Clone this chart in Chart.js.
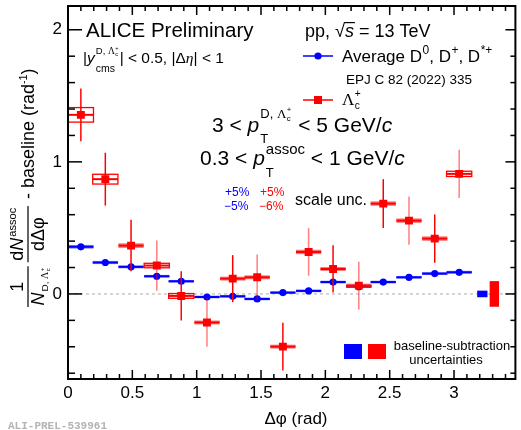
<!DOCTYPE html>
<html>
<head>
<meta charset="utf-8">
<script src="https://cdn.jsdelivr.net/npm/chart.js@4.4.1/dist/chart.umd.min.js"></script>
<style>
  html, body { margin: 0; padding: 0; background: #fff; }
</style>
</head>
<body>
<canvas id="chart" width="521" height="430"></canvas>
<script>
// Δφ bin centres (rad)
const dphi = [0.10, 0.29, 0.49, 0.69, 0.88, 1.08, 1.28, 1.47, 1.67, 1.87, 2.06, 2.26, 2.45, 2.65, 2.85, 3.04];
const binHalf = 0.098;

// average D0, D+, D*+  (EPJ C 82 (2022) 335)
const dMeson     = [0.357, 0.238, 0.205, 0.134, 0.096, -0.023, -0.018, -0.038, 0.010, 0.023, 0.090, 0.055, 0.090, 0.126, 0.154, 0.164];
const dMesonStat = [0.015, 0.013, 0.013, 0.013, 0.013, 0.012, 0.012, 0.012, 0.012, 0.012, 0.013, 0.013, 0.013, 0.013, 0.013, 0.013];
const dMesonSyst = [0.014, 0.012, 0.011, 0.010, 0.010, 0.010, 0.010, 0.010, 0.010, 0.010, 0.010, 0.010, 0.010, 0.010, 0.011, 0.011];

// Lambda_c+
const lambdaC     = [1.356, 0.869, 0.366, 0.215, -0.015, -0.216, 0.116, 0.126, -0.399, 0.318, 0.189, 0.063, 0.684, 0.555, 0.419, 0.909];
const lambdaCStat = [0.200, 0.200, 0.195, 0.190, 0.187, 0.183, 0.178, 0.172, 0.180, 0.180, 0.179, 0.180, 0.185, 0.183, 0.183, 0.183];
const lambdaCSyst = [0.055, 0.037, 0.018, 0.017, 0.018, 0.015, 0.015, 0.015, 0.015, 0.017, 0.015, 0.015, 0.017, 0.017, 0.017, 0.020];
const lambdaCOpen = [true, true, false, true, true, false, false, false, false, false, false, false, false, false, false, true];

// baseline-subtraction uncertainties
const baselineUncD = 0.025;
const baselineUncL = 0.097;

// axis
const xTickLabels = [0, 0.5, 1, 1.5, 2, 2.5, 3];
const yTickLabels = [0, 1, 2];

const SANS = '"Liberation Sans", Arial, sans-serif';
const SERIF = '"Liberation Serif", "Times New Roman", serif';

function font(size, it, serif, bold) {
  return (it ? 'italic ' : '') + (bold ? 'bold ' : '') + size + 'px ' + (serif ? SERIF : SANS);
}
function t(ctx, s, x, y, size, o) {
  o = o || {};
  ctx.font = font(size, o.it, o.serif, o.bold);
  ctx.fillStyle = o.color || '#000';
  if (!o.dry) ctx.fillText(s, x, y);
  return ctx.measureText(s).width;
}
// Λ with c subscript and + superscript
function lamC(ctx, x, y, size, o) {
  o = o || {};
  const wL = t(ctx, 'Λ', x, y, size, { serif: true, color: o.color, dry: o.dry });
  const s2 = size * 0.6;
  const wc = t(ctx, 'c', x + wL + 0.5, y + size * 0.25, s2, { color: o.color, dry: o.dry });
  const wp = t(ctx, '+', x + wL + 0.5, y - size * 0.45, s2, { color: o.color, dry: o.dry });
  return wL + 0.5 + Math.max(wc, wp);
}

function drawYTitle(ctx) {
  ctx.save();
  ctx.translate(0, 308);
  ctx.rotate(-Math.PI / 2);
  ctx.textAlign = 'left';
  ctx.textBaseline = 'alphabetic';
  const F = 18, vLine = 28, vNum = 23, vDen = 44;
  let u = 1;
  // 1 / N_{D,Λc}
  let wN = t(ctx, 'N', 0, 0, F, { it: true, dry: true });
  let wSub = t(ctx, 'D, ', 0, 0, F * 0.55, { dry: true }) + lamC(ctx, 0, 0, F * 0.55, { dry: true });
  let wDen = wN + 1 + wSub;
  let w1 = t(ctx, '1', 0, 0, F, { dry: true });
  let L = Math.max(wDen, w1) + 3;
  t(ctx, '1', u + (L - w1) / 2, vNum, F);
  let x = u + (L - wDen) / 2;
  t(ctx, 'N', x, vDen, F, { it: true });
  x += wN + 1;
  x += t(ctx, 'D, ', x, vDen + 4, F * 0.55);
  lamC(ctx, x, vDen + 4, F * 0.55);
  ctx.fillStyle = '#000';
  ctx.fillRect(u, vLine - 0.6, L, 1.2);
  u += L + 4;
  // dN^assoc / dΔφ
  let wd = t(ctx, 'd', 0, 0, F, { dry: true });
  let wN2 = t(ctx, 'N', 0, 0, F, { it: true, dry: true });
  let wA = t(ctx, 'assoc', 0, 0, F * 0.62, { dry: true });
  let wNum = wd + wN2 + 1 + wA;
  let wDen2 = t(ctx, 'dΔφ', 0, 0, F, { dry: true });
  L = Math.max(wNum, wDen2) + 3;
  x = u + (L - wNum) / 2;
  x += t(ctx, 'd', x, vNum, F);
  x += t(ctx, 'N', x, vNum, F, { it: true }) + 1;
  t(ctx, 'assoc', x, vNum - 7, F * 0.62);
  t(ctx, 'dΔφ', u + (L - wDen2) / 2, vDen, F);
  ctx.fillRect(u, vLine - 0.6, L, 1.2);
  u += L + 2;
  // - baseline (rad^-1)
  const vB = 34;
  u += t(ctx, ' - baseline (rad', u, vB, F);
  u += t(ctx, '-1', u, vB - 7, F * 0.6);
  t(ctx, ')', u, vB, F);
  ctx.restore();
}

function drawTexts(ctx) {
  ctx.save();
  ctx.textAlign = 'left';
  ctx.textBaseline = 'alphabetic';
  t(ctx, 'ALICE Preliminary', 86, 37, 20.5);

  // |y^{D,Λc}_{cms}| < 0.5, |Δη| < 1
  let x = 83;
  x += t(ctx, '|', x, 63, 15.5);
  x += t(ctx, 'y', x, 63, 15.5, { it: true }) + 1;
  let xs = x;
  let ws = t(ctx, 'D, ', xs, 54, 9.5);
  ws += lamC(ctx, xs + ws, 54, 9.5);
  let wc = t(ctx, 'cms', xs, 72, 10.5);
  x += Math.max(ws, wc) + 1;
  x += t(ctx, '| < 0.5, |Δ', x, 63, 15.5);
  x += t(ctx, 'η', x, 63, 15.5, { it: true, serif: true });
  t(ctx, '| < 1', x, 63, 15.5);

  // pp, √s = 13 TeV
  x = 305;
  x += t(ctx, 'pp, ', x, 37, 18);
  x += t(ctx, '√', x, 37, 18);
  let wS = t(ctx, 's', x, 37, 18, { it: true });
  ctx.fillRect(x - 1, 22, wS + 2, 1.2);
  x += wS;
  t(ctx, ' = 13 TeV', x, 37, 18);

  // legend
  ctx.strokeStyle = '#0000ff';
  ctx.lineWidth = 1.5;
  ctx.beginPath(); ctx.moveTo(303, 56); ctx.lineTo(333, 56); ctx.stroke();
  ctx.fillStyle = '#0000ff';
  ctx.beginPath(); ctx.arc(318, 56, 3.6, 0, Math.PI * 2); ctx.fill();
  x = 342;
  x += t(ctx, 'Average D', x, 62, 17) + 0.5;
  x += t(ctx, '0', x, 54, 12);
  x += t(ctx, ', D', x, 62, 17) + 0.5;
  x += t(ctx, '+', x, 54, 12);
  x += t(ctx, ', D', x, 62, 17) + 0.5;
  t(ctx, '*+', x, 54, 12);
  t(ctx, 'EPJ C 82 (2022) 335', 346, 84, 13.5);

  ctx.strokeStyle = '#ff0000';
  ctx.beginPath(); ctx.moveTo(303, 100); ctx.lineTo(333, 100); ctx.stroke();
  ctx.fillStyle = '#ff0000';
  ctx.fillRect(314, 96, 8, 8);
  lamC(ctx, 342, 105, 17);

  // 3 < pT^{D,Λc} < 5 GeV/c
  x = 212;
  x += t(ctx, '3 < ', x, 132, 21);
  x += t(ctx, 'p', x, 132, 21, { it: true }) + 1;
  ws = t(ctx, 'D, ', x, 118, 13);
  ws += lamC(ctx, x + ws, 118, 13);
  wc = t(ctx, 'T', x, 143, 13);
  x += Math.max(ws, wc) + 1;
  x += t(ctx, ' < 5 GeV/', x, 132, 21);
  t(ctx, 'c', x, 132, 21, { it: true });

  // 0.3 < pT^{assoc} < 1 GeV/c
  x = 200;
  x += t(ctx, '0.3 < ', x, 165, 21);
  x += t(ctx, 'p', x, 165, 21, { it: true }) + 1;
  ws = t(ctx, 'assoc', x, 154, 15);
  wc = t(ctx, 'T', x, 177, 13);
  x += Math.max(ws, wc);
  x += t(ctx, ' < 1 GeV/', x, 165, 21);
  t(ctx, 'c', x, 165, 21, { it: true });

  // scale uncertainties
  t(ctx, '+5%', 225, 196, 12, { color: '#0000ff' });
  t(ctx, '\u22125%', 224, 210, 12, { color: '#0000ff' });
  t(ctx, '+5%', 260, 196, 12, { color: '#ff0000' });
  t(ctx, '\u22126%', 259, 210, 12, { color: '#ff0000' });
  t(ctx, 'scale unc.', 295, 205, 16);

  // baseline-subtraction legend
  ctx.fillStyle = '#0000ff';
  ctx.fillRect(344, 344, 18, 15);
  ctx.fillStyle = '#ff0000';
  ctx.fillRect(368, 344, 18, 15);
  ctx.textAlign = 'center';
  t(ctx, 'baseline-subtraction', 452, 350, 13);
  t(ctx, 'uncertainties', 446, 364, 13);

  // axis title
  t(ctx, 'Δφ (rad)', 296, 424, 17);

  ctx.textAlign = 'left';
  ctx.font = 'bold 11px "Liberation Mono", "DejaVu Sans Mono", monospace';
  ctx.fillStyle = '#b4b4b4';
  ctx.fillText('ALI-PREL-539961', 8, 429);
  ctx.restore();
}

function seg(ctx, x0, y0, x1, y1) {
  ctx.beginPath(); ctx.moveTo(x0, y0); ctx.lineTo(x1, y1); ctx.stroke();
}

const rootStyle = {
  id: 'rootStyle',
  beforeDatasetsDraw(chart) {
    const { ctx, chartArea: a, scales: { y } } = chart;
    const py = y.getPixelForValue(0);
    ctx.save();
    ctx.strokeStyle = '#c8c8c8';
    ctx.lineWidth = 1.5;
    ctx.setLineDash([3, 3]);
    seg(ctx, a.left, py, a.right, py);
    ctx.restore();
  },
  beforeDatasetDraw(chart, args) {
    const { ctx, scales: { x: sx, y: sy } } = chart;
    ctx.save();
    if (args.index === 1) {
      dphi.forEach((c, i) => {
        const x0 = sx.getPixelForValue(c - binHalf), x1 = sx.getPixelForValue(c + binHalf);
        const xc = sx.getPixelForValue(c), yc = sy.getPixelForValue(dMeson[i]);
        const yt = sy.getPixelForValue(dMeson[i] + dMesonSyst[i]);
        const yb = sy.getPixelForValue(dMeson[i] - dMesonSyst[i]);
        ctx.fillStyle = 'rgba(90,90,255,0.75)';
        ctx.fillRect(x0, yt, x1 - x0, yb - yt);
        ctx.strokeStyle = '#0000ff';
        ctx.lineWidth = 2;
        seg(ctx, x0, yc, x1, yc);
        ctx.lineWidth = 1.5;
        seg(ctx, xc, sy.getPixelForValue(dMeson[i] + dMesonStat[i]), xc, sy.getPixelForValue(dMeson[i] - dMesonStat[i]));
      });
      // baseline uncertainty box
      ctx.fillStyle = '#0000ff';
      const bx0 = sx.getPixelForValue(3.18), bx1 = sx.getPixelForValue(3.26);
      const by0 = sy.getPixelForValue(baselineUncD), by1 = sy.getPixelForValue(-baselineUncD);
      ctx.fillRect(bx0, by0, bx1 - bx0, by1 - by0);
    } else {
      dphi.forEach((c, i) => {
        const x0 = sx.getPixelForValue(c - binHalf), x1 = sx.getPixelForValue(c + binHalf);
        const xc = sx.getPixelForValue(c), yc = sy.getPixelForValue(lambdaC[i]);
        const yt = sy.getPixelForValue(lambdaC[i] + lambdaCSyst[i]);
        const yb = sy.getPixelForValue(lambdaC[i] - lambdaCSyst[i]);
        const faint = i >= 3 && i % 2 === 1;
        if (lambdaCOpen[i]) {
          ctx.strokeStyle = '#ff0000';
          ctx.lineWidth = 1.3;
          ctx.strokeRect(x0, yt, x1 - x0, yb - yt);
        } else {
          ctx.fillStyle = 'rgba(245,70,70,0.7)';
          ctx.fillRect(x0, yt, x1 - x0, yb - yt);
        }
        ctx.strokeStyle = '#ff0000';
        ctx.lineWidth = 2;
        seg(ctx, x0, yc, x1, yc);
        ctx.strokeStyle = faint ? 'rgba(255,0,0,0.5)' : '#ff0000';
        ctx.lineWidth = 1.5;
        seg(ctx, xc, sy.getPixelForValue(lambdaC[i] + lambdaCStat[i]), xc, sy.getPixelForValue(lambdaC[i] - lambdaCStat[i]));
      });
      ctx.fillStyle = '#ff0000';
      const bx0 = sx.getPixelForValue(3.277), bx1 = sx.getPixelForValue(3.35);
      const by0 = sy.getPixelForValue(baselineUncL), by1 = sy.getPixelForValue(-baselineUncL);
      ctx.fillRect(bx0, by0, bx1 - bx0, by1 - by0);
    }
    ctx.restore();
  },
  afterDraw(chart) {
    const { ctx, chartArea: a, scales: { x: sx, y: sy } } = chart;
    ctx.save();
    ctx.strokeStyle = '#000';
    ctx.lineWidth = 1.5;
    // x ticks, minor every 0.1
    for (let k = 0; k <= 34; k++) {
      const v = k / 10, px = sx.getPixelForValue(v), major = k % 5 === 0;
      seg(ctx, px, a.bottom, px, a.bottom - (major ? 9 : 5));
      seg(ctx, px, a.top, px, a.top + (major ? 9 : 5));
    }
    // y ticks, minor every 0.2
    for (let k = -3; k <= 10; k++) {
      const v = k / 5, py = sy.getPixelForValue(v), major = k % 5 === 0;
      seg(ctx, a.left, py, a.left + (major ? 14 : 7), py);
      seg(ctx, a.right, py, a.right - (major ? 10 : 5), py);
    }
    ctx.lineWidth = 2;
    ctx.strokeRect(a.left, a.top, a.right - a.left, a.bottom - a.top);
    ctx.restore();
    drawYTitle(ctx);
    drawTexts(ctx);
  }
};

new Chart(document.getElementById('chart'), {
  type: 'scatter',
  data: {
    datasets: [
      {
        label: 'Λc+',
        data: dphi.map((x, i) => ({ x, y: lambdaC[i] })),
        pointStyle: 'rect',
        pointRadius: 5.6,
        pointBackgroundColor: '#ff0000',
        pointBorderWidth: 0
      },
      {
        label: 'Average D0, D+, D*+',
        data: dphi.map((x, i) => ({ x, y: dMeson[i] })),
        pointStyle: 'circle',
        pointRadius: 3.6,
        pointBackgroundColor: '#0000ff',
        pointBorderWidth: 0
      }
    ]
  },
  options: {
    responsive: false,
    animation: false,
    events: [],
    layout: { padding: { top: 6, right: 1, left: 0, bottom: 0 } },
    plugins: { legend: { display: false }, tooltip: { enabled: false } },
    scales: {
      x: {
        type: 'linear',
        min: 0,
        max: 3.477,
        grid: { display: false, drawTicks: false },
        border: { display: false },
        afterBuildTicks: s => { s.ticks = xTickLabels.map(v => ({ value: v })); },
        afterFit: s => { s.height = 51; s.paddingLeft = 0; s.paddingRight = 0; },
        ticks: {
          autoSkip: false,
          maxRotation: 0,
          padding: 4,
          color: '#000',
          font: { family: 'Liberation Sans', size: 17 },
          callback: v => String(v)
        }
      },
      y: {
        type: 'linear',
        min: -0.644,
        max: 2.18,
        grid: { display: false, drawTicks: false },
        border: { display: false },
        afterBuildTicks: s => { s.ticks = yTickLabels.map(v => ({ value: v })); },
        afterFit: s => { s.width = 68; s.paddingTop = 0; s.paddingBottom = 0; },
        ticks: {
          autoSkip: false,
          padding: 6,
          color: '#000',
          font: { family: 'Liberation Sans', size: 17 },
          callback: v => String(v)
        }
      }
    }
  },
  plugins: [rootStyle]
});
</script>
</body>
</html>
